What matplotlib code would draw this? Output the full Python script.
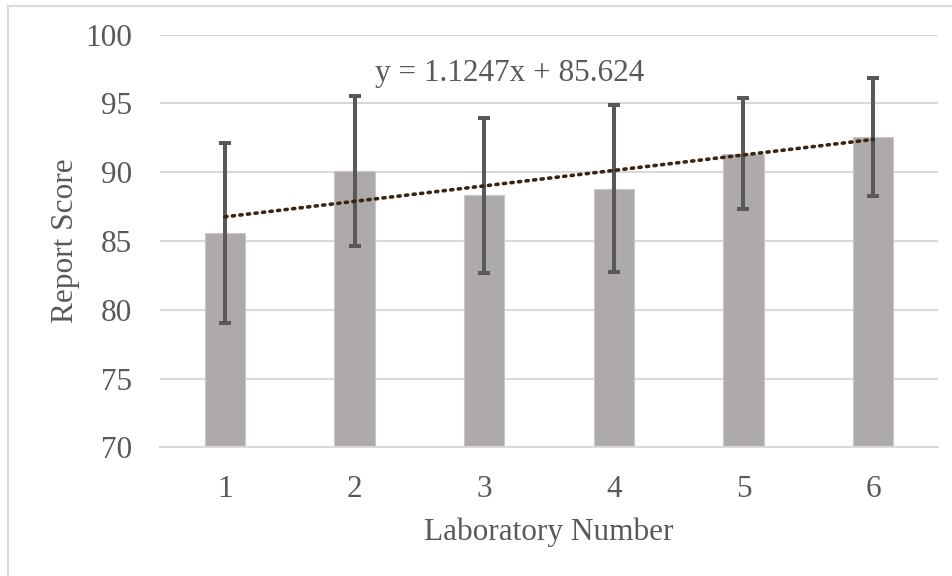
import numpy as np
import matplotlib
matplotlib.use('Agg')
import matplotlib.pyplot as plt
from matplotlib.patches import Rectangle

labs = [1, 2, 3, 4, 5, 6]
scores = [85.6, 90.1, 88.3, 88.8, 91.35, 92.55]
errs = [6.55, 5.45, 5.65, 6.05, 4.05, 4.3]
slope = 1.1247
intercept = 85.624

txt = '#595959'
fs = 22.5

def main():
    plt.rcParams['font.family'] = ['Liberation Serif', 'DejaVu Serif']
    fig = plt.figure(figsize=(9.52, 5.76), dpi=100)
    ax = fig.add_axes([160 / 952., 1 - 447.3 / 576., 778 / 952., 412.8 / 576.])

    # outer chart border (only left and top visible)
    fig.patches.append(Rectangle((8 / 952., -0.1), 1.2, 1.1 - 6 / 576., transform=fig.transFigure,
                                 fill=False, edgecolor='#d9d9d9', linewidth=1.5))

    x = np.array(labs)
    ax.bar(x, scores, width=0.31, color='#aeaaaa', edgecolor='#c8c6c6', linewidth=0.8, zorder=2)
    ax.errorbar(x, scores, yerr=errs, fmt='none', ecolor='#595959', elinewidth=2.9,
                capsize=4.5, capthick=2.9, zorder=3)

    tx = np.array([labs[0], labs[-1]])
    ax.plot(tx, slope * tx + intercept, linestyle=(0, (0.6, 1.5)), color='#3c2412',
            linewidth=2.6, dash_capstyle='round', zorder=4)
    ax.text(3.2, 97.2, 'y = %.4fx + %.3f' % (slope, intercept), ha='center', va='center',
            fontsize=fs, color=txt)

    ax.set_xlim(0.5, 6.5)
    ax.set_ylim(70, 100)
    ax.set_yticks(np.arange(70, 101, 5))
    ax.set_xticks(x)
    ax.grid(axis='y', color='#d9d9d9', linewidth=1.5, zorder=0)
    ax.set_axisbelow(True)
    for s in ['top', 'right', 'left']:
        ax.spines[s].set_visible(False)
    ax.spines['bottom'].set_color('#d9d9d9')
    ax.spines['bottom'].set_linewidth(1.5)
    ax.tick_params(axis='both', length=0, labelsize=fs, labelcolor=txt)
    ax.tick_params(axis='y', pad=20)
    ax.tick_params(axis='x', pad=20)
    ax.set_xlabel('Laboratory Number', fontsize=fs, color=txt, labelpad=10)
    ax.set_ylabel('Report Score', fontsize=fs, color=txt, labelpad=4)

    fig.savefig('out.png', dpi=100)

if __name__ == '__main__':
    main()
